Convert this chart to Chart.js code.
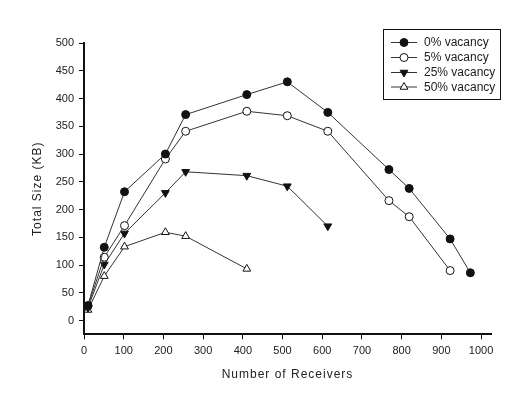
<!DOCTYPE html>
<html>
<head>
<meta charset="utf-8">
<script src="https://cdn.jsdelivr.net/npm/chart.js@4/dist/chart.umd.min.js"></script>
<style>
html,body{margin:0;padding:0;background:#fff;}
#wrap{width:526px;height:394px;position:relative;}
</style>
</head>
<body>
<div id="wrap"><canvas id="c" width="526" height="394"></canvas></div>
<script>
const receivers = [10, 51, 102, 205, 256, 410, 512, 614, 768, 819, 922, 973];
const vac0  = [27, 132, 232, 300, 371, 407, 430, 375, 272, 238, 147, 86];
const vac5  = [26, 114, 171, 291, 341, 377, 369, 341, 216, 187, 90];
const vac25 = [23, 101, 157, 230, 268, 261, 242, 170];
const vac50 = [19, 80, 133, 159, 152, 93];
const seriesNames = ['0% vacancy', '5% vacancy', '25% vacancy', '50% vacancy'];
const xTicks = [0, 100, 200, 300, 400, 500, 600, 700, 800, 900, 1000];
const yTicks = [0, 50, 100, 150, 200, 250, 300, 350, 400, 450, 500];
const xTitle = 'Number of Receivers';
const yTitle = 'Total Size (KB)';

const FONT = "'Liberation Sans', Arial, sans-serif";
const pts = (vals) => vals.map((v, i) => ({x: receivers[i], y: v}));

const styles = [
  {pointStyle: 'circle', radius: 4, rotation: 0, bg: '#111'},
  {pointStyle: 'circle', radius: 4, rotation: 0, bg: '#fff'},
  {pointStyle: 'triangle', radius: 4.5, rotation: 180, bg: '#111'},
  {pointStyle: 'triangle', radius: 4.5, rotation: 0, bg: '#fff'}
];
const seriesData = [vac0, vac5, vac25, vac50];

const datasets = seriesData.map((vals, i) => ({
  label: seriesNames[i],
  data: pts(vals),
  borderColor: '#333',
  borderWidth: 1,
  pointStyle: styles[i].pointStyle,
  pointRadius: styles[i].radius,
  pointRotation: styles[i].rotation,
  pointBackgroundColor: styles[i].bg,
  pointBorderColor: '#111',
  pointBorderWidth: 1,
  tension: 0,
  fill: false
}));

const legendBox = {
  id: 'legendBox',
  afterDraw(chart) {
    const ctx = chart.ctx;
    ctx.save();
    ctx.strokeStyle = '#111';
    ctx.lineWidth = 1;
    ctx.strokeRect(383.5, 29.5, 117, 70);
    const rows = [42.5, 57.5, 72.5, 87];
    seriesNames.forEach((name, i) => {
      const y = rows[i];
      ctx.strokeStyle = '#333';
      ctx.lineWidth = 1;
      ctx.beginPath();
      ctx.moveTo(391, y);
      ctx.lineTo(417, y);
      ctx.stroke();
      ctx.fillStyle = styles[i].bg;
      ctx.strokeStyle = '#111';
      Chart.helpers.drawPoint(ctx, {
        pointStyle: styles[i].pointStyle,
        radius: styles[i].radius,
        rotation: styles[i].rotation,
        borderWidth: 1
      }, 404, y);
      ctx.fillStyle = '#222';
      ctx.font = '12px ' + FONT;
      ctx.textBaseline = 'middle';
      ctx.textAlign = 'left';
      ctx.fillText(name, 424, y + 0.5);
    });
    ctx.restore();
  }
};

const axisTitles = {
  id: 'axisTitles',
  afterDraw(chart) {
    const ctx = chart.ctx;
    const a = chart.chartArea;
    ctx.save();
    ctx.fillStyle = '#222';
    ctx.font = '12px ' + FONT;
    ctx.letterSpacing = '1px';
    ctx.textAlign = 'center';
    ctx.textBaseline = 'middle';
    ctx.fillText(xTitle, (a.left + a.right) / 2, 375);
    ctx.translate(38, (a.top + a.bottom) / 2);
    ctx.rotate(-Math.PI / 2);
    ctx.fillText(yTitle, 0, 0);
    ctx.restore();
  }
};

new Chart(document.getElementById('c'), {
  type: 'line',
  data: {datasets},
  plugins: [legendBox, axisTitles],
  options: {
    responsive: false,
    animation: false,
    layout: {padding: {top: 43, right: 35, left: 0, bottom: 0}},
    plugins: {legend: {display: false}, tooltip: {enabled: false}},
    scales: {
      x: {
        type: 'linear',
        min: 0, max: 1025,
        afterFit(s) { s.height = 59.6; },
        afterBuildTicks(s) { s.ticks = xTicks.map(v => ({value: v})); },
        ticks: {color: '#222', font: {family: FONT, size: 11}, padding: 5, maxRotation: 0,
                callback: v => String(v)},
        grid: {display: true, drawOnChartArea: false, drawTicks: true, tickLength: 5, color: '#111', lineWidth: 1},
        border: {display: true, color: '#111', width: 2}
      },
      y: {
        type: 'linear',
        min: -25, max: 500,
        afterFit(s) { s.width = 84; },
        afterBuildTicks(s) { s.ticks = yTicks.map(v => ({value: v})); },
        ticks: {color: '#222', font: {family: FONT, size: 11}, padding: 5,
                callback: v => String(v)},
        grid: {display: true, drawOnChartArea: false, drawTicks: true, tickLength: 5, color: '#111', lineWidth: 1},
        border: {display: true, color: '#111', width: 2}
      }
    }
  }
});
</script>
</body>
</html>
